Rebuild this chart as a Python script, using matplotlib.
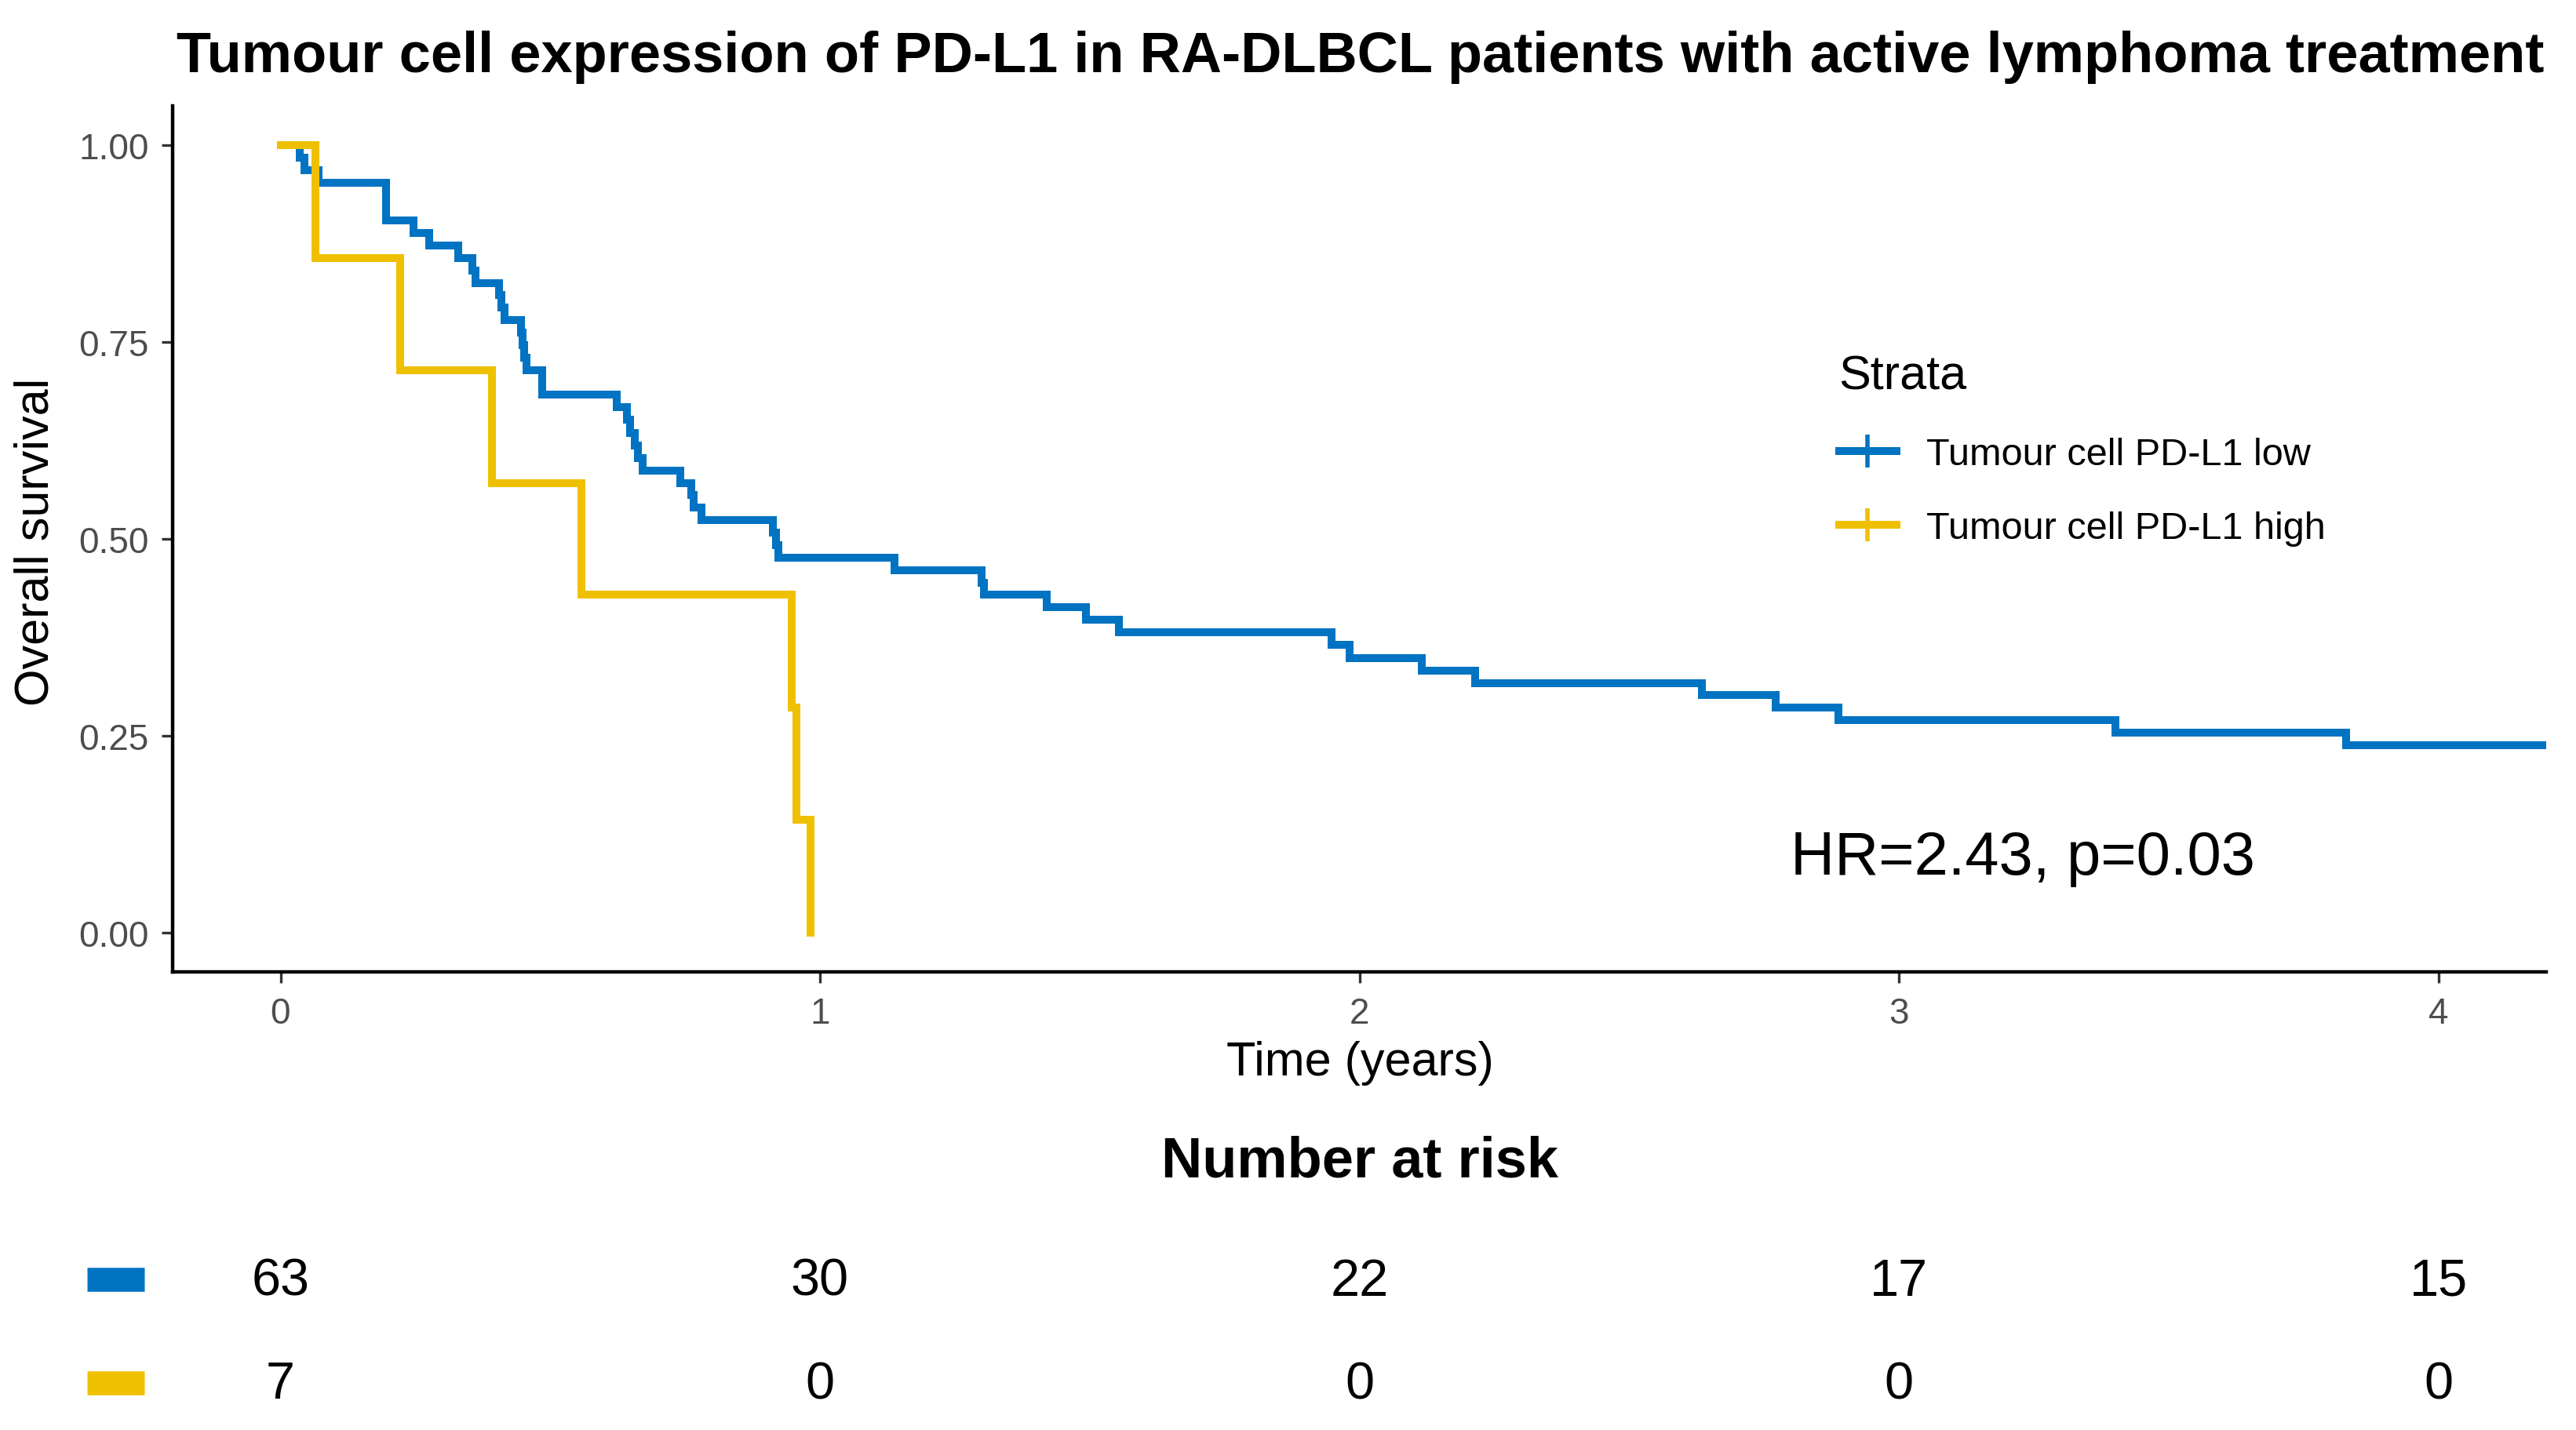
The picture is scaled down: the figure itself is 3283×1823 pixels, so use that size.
import numpy as np
import matplotlib
matplotlib.use("Agg")
import matplotlib.pyplot as plt
from matplotlib.lines import Line2D
from matplotlib.transforms import blended_transform_factory

# Kaplan-Meier step points (time in years, survival)
low_time = [0.0, 0.035, 0.045, 0.070, 0.196, 0.247, 0.276, 0.330, 0.356, 0.362,
            0.405, 0.410, 0.415, 0.446, 0.449, 0.452, 0.456, 0.485, 0.623, 0.642,
            0.648, 0.656, 0.663, 0.671, 0.741, 0.761, 0.766, 0.780, 0.913, 0.918,
            0.923, 1.138, 1.300, 1.304, 1.421, 1.493, 1.554, 1.948, 1.982, 2.115,
            2.215, 2.635, 2.772, 2.888, 3.401, 3.829, 4.200]
low_surv = [1.000, 0.984, 0.968, 0.952, 0.905, 0.889, 0.873, 0.857, 0.841, 0.825,
            0.810, 0.794, 0.778, 0.762, 0.746, 0.730, 0.714, 0.683, 0.667, 0.651,
            0.635, 0.619, 0.603, 0.587, 0.571, 0.556, 0.540, 0.524, 0.508, 0.492,
            0.476, 0.460, 0.444, 0.429, 0.413, 0.397, 0.381, 0.365, 0.349, 0.333,
            0.317, 0.302, 0.286, 0.270, 0.254, 0.238, 0.238]

high_time = [0.0, 0.065, 0.222, 0.392, 0.558, 0.947, 0.957, 0.983]
high_surv = [1.000, 0.857, 0.714, 0.571, 0.429, 0.286, 0.143, 0.000]

strata = ["Tumour cell PD-L1 low", "Tumour cell PD-L1 high"]
colors = ["#0073C2", "#EFC000"]

risk_times = [0, 1, 2, 3, 4]
risk_low = [63, 30, 22, 17, 15]
risk_high = [7, 0, 0, 0, 0]

title = "Tumour cell expression of PD-L1 in RA-DLBCL patients with active lymphoma treatment"
hr_text = "HR=2.43, p=0.03"

plt.rcParams["font.family"] = ["Liberation Sans", "DejaVu Sans"]

W, H = 3283, 1824
fig = plt.figure(figsize=(W / 200, H / 200), dpi=200)

# main KM panel
L, R, T, B = 220, 3245, 136, 1240
ax = fig.add_axes([L / W, 1 - B / H, (R - L) / W, (B - T) / H])
ax.step(low_time, low_surv, where="post", color=colors[0], lw=3.6, solid_joinstyle="miter")
ax.step(high_time, high_surv, where="post", color=colors[1], lw=3.6, solid_joinstyle="miter")

ax.set_xlim(-0.2, 4.2)
ax.set_ylim(-0.05, 1.05)
ax.set_xticks(risk_times)
ax.set_yticks([0, 0.25, 0.5, 0.75, 1.0])
ax.set_yticklabels(["0.00", "0.25", "0.50", "0.75", "1.00"])
for s in ["top", "right"]:
    ax.spines[s].set_visible(False)
for s in ["left", "bottom"]:
    ax.spines[s].set_linewidth(1.6)
    ax.spines[s].set_color("black")
ax.tick_params(axis="both", length=5, width=1.2, color="#333333",
               labelsize=16.5, labelcolor="#4D4D4D", pad=6)

ax.text(2.8, 0.095, hr_text, fontsize=28, ha="left", va="center")

handles = [Line2D([], [], color=c, lw=3.6, marker="+", markersize=15, markeredgewidth=2)
           for c in colors]
leg = ax.legend(handles, strata, title="Strata", loc="upper left",
                bbox_to_anchor=(0.694, 0.735), frameon=False, fontsize=17.5,
                title_fontsize=22, handlelength=1.5, handletextpad=0.8,
                labelspacing=1.0, borderpad=0, alignment="left")

fig.text(0.528, 1 - 92 / H, title, fontsize=26, fontweight="bold",
         ha="center", va="baseline")
fig.text(46 / W, 1 - 691 / H, "Overall survival", fontsize=22, rotation=90,
         ha="center", va="center")
fig.text(0.528, 1 - 1355 / H, "Time (years)", fontsize=22, ha="center", va="center")

# number-at-risk table
rax = fig.add_axes([L / W, 0.0, (R - L) / W, 263 / H])
rax.set_xlim(-0.2, 4.2)
rax.set_ylim(-0.5, 1.5)
rax.axis("off")
for row, vals, c in [(1, risk_low, colors[0]), (0, risk_high, colors[1])]:
    for t, v in zip(risk_times, vals):
        rax.text(t, row - 0.06, str(v), fontsize=24, ha="center", va="center")
    rax.plot([-0.359, -0.252], [row - 0.04, row - 0.04], color=c, lw=11,
             solid_capstyle="butt", clip_on=False)
tr = blended_transform_factory(rax.transData, rax.transAxes)
rax.text(2.0, (H - 1482) / 263, "Number at risk", fontsize=26, fontweight="bold",
         ha="center", va="center", transform=tr)

fig.savefig("out.png", dpi=200, facecolor="white")
